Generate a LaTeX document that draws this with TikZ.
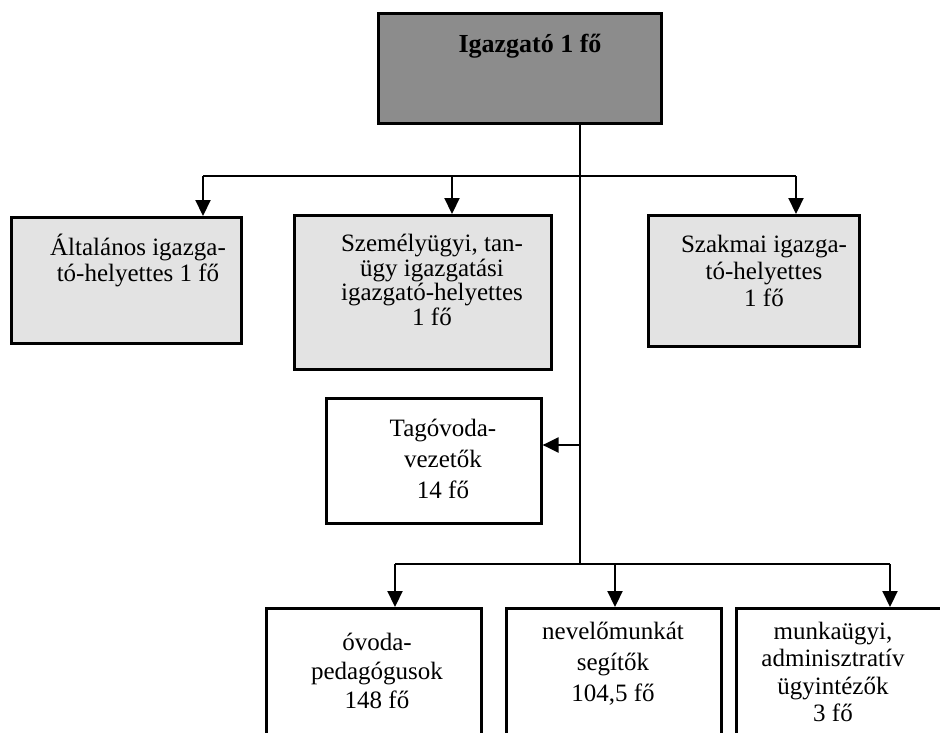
\documentclass[tikz,border=0pt]{standalone}
\usepackage{fontspec}
\setmainfont{Liberation Serif}
\usetikzlibrary{arrows.meta}
\begin{document}
\begin{tikzpicture}[x=1pt,y=-1pt,
  box/.style={draw=black, line width=2.6pt, anchor=north west, inner sep=0pt},
  dark/.style={fill=black!45},
  light/.style={fill=black!11},
  txt/.style={align=center, font=\fontsize{25}{26}\selectfont, inner sep=0pt},
  txtb/.style={align=center, font=\fontsize{25}{30}\selectfont, inner sep=0pt},
  ln/.style={line width=2.2pt},
  arr/.style={line width=2.2pt, -{Triangle[length=16pt,width=15pt]}},
]
\useasboundingbox (0,0) rectangle (940,733);
\clip (0,0) rectangle (940,733);

% top box
\node[box, dark, minimum width=283pt, minimum height=110pt] (top) at (377,12) {};
\node[txt, font=\bfseries\fontsize{26}{26}\selectfont] (topt) at (530,46) {Igazgató 1 fő};

% second row boxes
\node[box, light, minimum width=230pt, minimum height=126pt] (b1) at (10,216) {};
\node[txt] (b1t) at (138,260) {Általános igazga-\\tó-helyettes 1 fő};

\node[box, light, minimum width=257pt, minimum height=154pt] (b2) at (293,214) {};
\node[txt, font=\fontsize{25}{24.5}\selectfont] (b2t) at (432,280) {Személyügyi, tan-\\ügy igazgatási\\igazgató-helyettes\\1 fő};

\node[box, light, minimum width=211pt, minimum height=131pt] (b3) at (647,214) {};
\node[txt, font=\fontsize{25}{27}\selectfont] (b3t) at (764,271) {Szakmai igazga-\\tó-helyettes\\1 fő};

% tagovoda
\node[box, minimum width=215pt, minimum height=125pt] (tago) at (325,397) {};
\node[txtb, font=\fontsize{25}{31}\selectfont] (tagot) at (443,459) {Tagóvoda-\\vezetők\\14 fő};

% bottom boxes
\node[box, minimum width=215pt, minimum height=160pt] (c1) at (265,607) {};
\node[txtb, font=\fontsize{25}{29}\selectfont] (c1t) at (377,671) {óvoda-\\pedagógusok\\148 fő};

\node[box, minimum width=215pt, minimum height=160pt] (c2) at (505,607) {};
\node[txtb, font=\fontsize{25}{31}\selectfont] (c2t) at (613,664) {nevelőmunkát\\segítők\\104,5 fő};

\node[box, minimum width=230pt, minimum height=160pt] (c3) at (735,607) {};
\node[txt, font=\fontsize{25}{27.5}\selectfont] (c3t) at (833,672) {munkaügyi,\\adminisztratív\\ügyintézők\\3 fő};

% connectors
\coordinate (tx) at (580,0);
\coordinate (busL) at (203,176);
\coordinate (busM) at (452,176);
\coordinate (busR) at (796,176);
\coordinate (tj) at (580,445);
\coordinate (busD) at (580,564);
\coordinate (dL) at (395,564);
\coordinate (dM) at (615,564);
\coordinate (dR) at (890,564);

\draw[ln] (top.south -| tx) -- (busD);
\draw[ln] (busL) -- (busR);
\draw[arr] (busL) -- (busL |- b1.north);
\draw[arr] (busM) -- (busM |- b2.north);
\draw[arr] (busR) -- (busR |- b3.north);
\draw[arr] (tj) -- (tj -| tago.east);
\draw[ln] (dL) -- (dR);
\draw[arr] (dL) -- (dL |- c1.north);
\draw[arr] (dM) -- (dM |- c2.north);
\draw[arr] (dR) -- (dR |- c3.north);
\end{tikzpicture}
\end{document}
